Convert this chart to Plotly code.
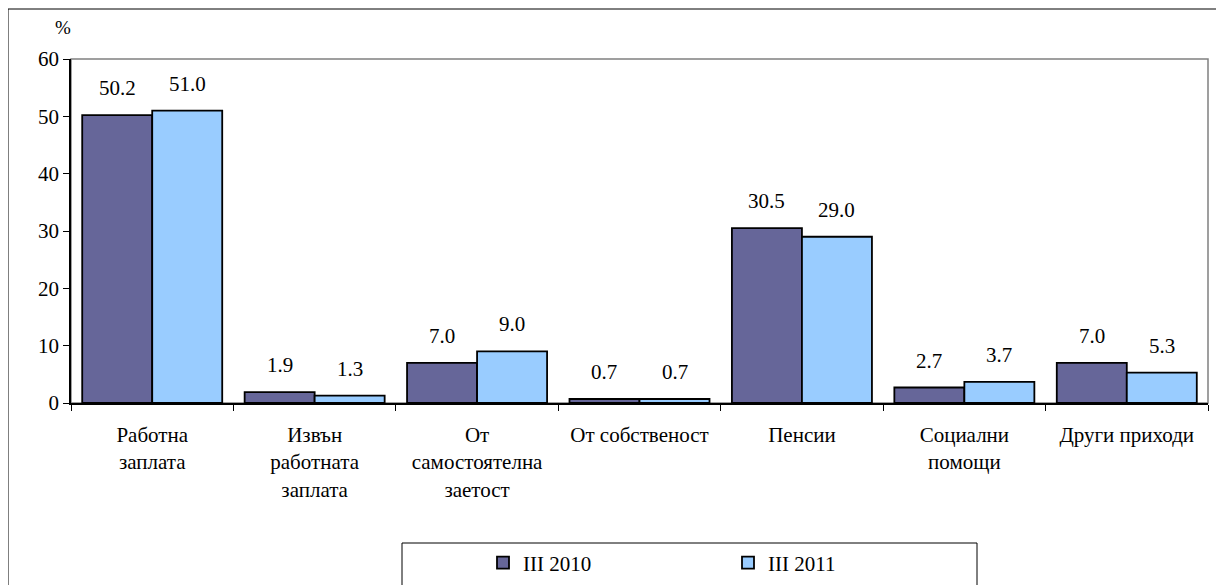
import plotly.graph_objects as go

categories = ["Работна<br>заплата", "Извън<br>работната<br>заплата", "От<br>самостоятелна<br>заетост",
              "От собственост", "Пенсии", "Социални<br>помощи", "Други приходи"]
series_names = ["III 2010", "III 2011"]
values_2010 = [50.2, 1.9, 7.0, 0.7, 30.5, 2.7, 7.0]
values_2011 = [51.0, 1.3, 9.0, 0.7, 29.0, 3.7, 5.3]
colors = ["#666699", "#99CCFF"]
y_ticks = [0, 10, 20, 30, 40, 50, 60]

FONT = "Liberation Serif, Times New Roman, serif"
FS = 21
OFF = 8  # default body margin of the html page
W, H = 1224, 585
# target plot area in screen pixels
SL, SR, ST, SB = 71, 1208, 59, 403
L, T = SL - OFF, ST - OFF
R = W - (SR - OFF)
B = H - (SB - OFF)
pw, ph = SR - SL, SB - ST
BARGAP = 0.138


def px_x(x):
    return (x - SL) / pw


def px_y(y):
    return (SB - y) / ph


fig = go.Figure()
for name, vals, col in zip(series_names, [values_2010, values_2011], colors):
    fig.add_trace(go.Bar(
        x=categories, y=vals, name=name,
        marker=dict(color=col, line=dict(color="black", width=1.8)),
    ))

# value labels above bars
cat_w = pw / len(categories)
half_bar = cat_w * (1 - BARGAP) / 4
annotations = []
for sign, vals in zip([-1, 1], [values_2010, values_2011]):
    for c, v in zip(categories, vals):
        annotations.append(dict(x=c, y=v, xref="x", yref="y", text=f"{v:.1f}", showarrow=False,
                                xshift=sign * half_bar, yshift=27, yanchor="middle",
                                font=dict(family=FONT, size=FS, color="black")))
annotations.append(dict(text="%", xref="paper", yref="paper", x=px_x(63), y=px_y(27),
                        xanchor="center", yanchor="middle",
                        showarrow=False, font=dict(family=FONT, size=19)))

shapes = [
    # outer frame
    dict(type="rect", xref="paper", yref="paper", x0=px_x(8), x1=px_x(1250),
         y0=px_y(620), y1=px_y(9), line=dict(color="black", width=1), layer="below"),
    # plot area frame (gray top/right)
    dict(type="rect", xref="paper", yref="paper", x0=0, x1=1, y0=0, y1=1,
         line=dict(color="#808080", width=1.5), layer="below"),
    # legend box
    dict(type="rect", xref="paper", yref="paper", x0=px_x(402), x1=px_x(977),
         y0=px_y(620), y1=px_y(543), line=dict(color="black", width=1), layer="below"),
]

fig.update_layout(
    width=W, height=H,
    margin=dict(l=L, r=R, t=T, b=B, pad=0, autoexpand=False),
    paper_bgcolor="white", plot_bgcolor="white",
    barmode="group", bargap=BARGAP, bargroupgap=0,
    font=dict(family=FONT, size=FS, color="black"),
    showlegend=True,
    legend=dict(orientation="h", x=px_x(483), xanchor="left", y=px_y(563), yanchor="middle",
                bgcolor="rgba(0,0,0,0)", borderwidth=0, entrywidth=200, entrywidthmode="pixels",
                font=dict(family=FONT, size=FS), itemclick=False),
    shapes=shapes,
    annotations=annotations,
)
fig.update_xaxes(showline=True, linecolor="black", linewidth=1.5, ticks="outside", ticklen=6,
                 tickcolor="black", tickson="boundaries", tickangle=0, ticklabelstandoff=12,
                 showgrid=False, zeroline=False, tickfont=dict(family=FONT, size=FS), automargin=False)
fig.update_yaxes(range=[0, 60], tickvals=y_ticks, showline=True, linecolor="black", linewidth=1.5,
                 ticks="outside", ticklen=6, tickcolor="black", showgrid=False, zeroline=False,
                 tickfont=dict(family=FONT, size=FS), automargin=False)

fig.write_html("out.html")
